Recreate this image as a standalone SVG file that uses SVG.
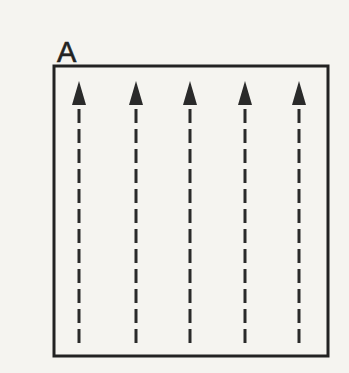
<svg xmlns="http://www.w3.org/2000/svg" width="349" height="373" viewBox="0 0 349 373">
<style>
.box{fill:none;stroke:#222;stroke-width:3}
.flow{stroke:#2a2a2a;stroke-width:3;stroke-dasharray:14 6;fill:none}
.head{fill:#2a2a2a}
.lbl{font-family:"Liberation Sans",Arial,sans-serif;font-size:29px;fill:#222;stroke:#222;stroke-width:0.6}
</style>
<rect width="349" height="373" fill="#f5f4f0"/>
<g id="box-A">
<rect class="box" x="54" y="66" width="274" height="290"/>
<text class="lbl" x="57" y="62">A</text>
</g>
<g id="connectors">
<g id="arrow1"><line class="flow" x1="79" y1="343" x2="79" y2="106"/><polygon class="head" points="79,81 72,105 86,105"/></g>
<g id="arrow2"><line class="flow" x1="136" y1="343" x2="136" y2="106"/><polygon class="head" points="136,81 129,105 143,105"/></g>
<g id="arrow3"><line class="flow" x1="190" y1="343" x2="190" y2="106"/><polygon class="head" points="190,81 183,105 197,105"/></g>
<g id="arrow4"><line class="flow" x1="245" y1="343" x2="245" y2="106"/><polygon class="head" points="245,81 238,105 252,105"/></g>
<g id="arrow5"><line class="flow" x1="299" y1="343" x2="299" y2="106"/><polygon class="head" points="299,81 292,105 306,105"/></g>
</g>
</svg>
